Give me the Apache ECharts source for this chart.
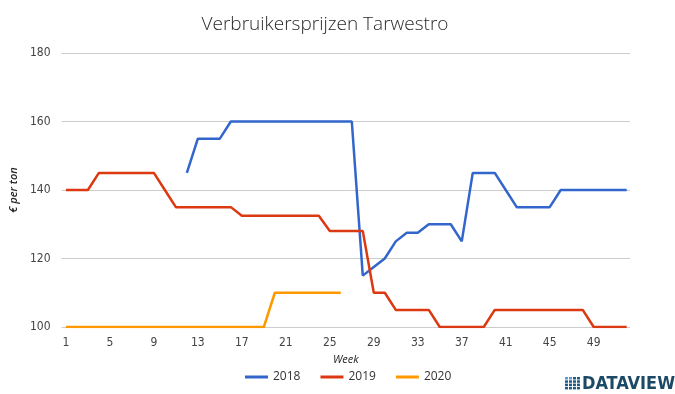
<!DOCTYPE html>
<html>
<head>
<meta charset="utf-8">
<script src="https://cdn.jsdelivr.net/npm/echarts@6/dist/echarts.min.js"></script>
<style>
  html, body { margin: 0; padding: 0; background: #fff; }
  #chart { width: 675px; height: 394px; }
</style>
</head>
<body>
<div id="chart"></div>
<script>
// Weekly consumer prices of wheat straw (€ per ton)
const weeks = [1,2,3,4,5,6,7,8,9,10,11,12,13,14,15,16,17,18,19,20,21,22,23,24,25,26,
               27,28,29,30,31,32,33,34,35,36,37,38,39,40,41,42,43,44,45,46,47,48,49,50,51,52];
const weekTicks = [1,5,9,13,17,21,25,29,33,37,41,45,49];
const priceTicks = [100,120,140,160,180];
const seriesNames = ['2018','2019','2020'];

const prices2018 = [null,null,null,null,null,null,null,null,null,null,null,145,155,155,155,160,
                    160,160,160,160,160,160,160,160,160,160,160,115,117.5,120,125,127.5,127.5,130,130,130,
                    125,145,145,145,140,135,135,135,135,140,140,140,140,140,140,140];
const prices2019 = [140,140,140,145,145,145,145,145,145,140,135,135,135,135,135,135,
                    132.5,132.5,132.5,132.5,132.5,132.5,132.5,132.5,128,128,128,128,110,110,105,105,105,105,
                    100,100,100,100,100,105,105,105,105,105,105,105,105,105,100,100,100,100];
const prices2020 = [100,100,100,100,100,100,100,100,100,100,100,100,100,100,100,100,100,100,100,
                    110,110,110,110,110,110,110];

const colors = ['#3366cc', '#dc3912', '#ff9900'];
const labelFont = "'Liberation Sans Narrow', 'DejaVu Sans Condensed', sans-serif";

function pairs(values) {
  const out = [];
  values.forEach((v, i) => { if (v !== null && v !== undefined) out.push([weeks[i], v]); });
  return out;
}

// Logo mark: small grid of squares followed by the wordmark
const logoCells = [];
for (let r = 0; r < 4; r++) {
  for (let c = 0; c < 4; c++) {
    logoCells.push({
      type: 'rect',
      shape: { x: c * 4, y: r * 3.3, width: 3, height: 2.5 },
      style: { fill: (r === 0 && c < 2) ? '#5b9bd5' : '#1f5a85' }
    });
  }
}

const chart = echarts.init(document.getElementById('chart'), null, { renderer: 'canvas' });
chart.setOption({
  animation: false,
  color: colors,
  title: {
    text: 'Verbruikersprijzen Tarwestro',
    left: 320,
    textAlign: 'center',
    top: 10,
    textStyle: { fontFamily: "'Open Sans', sans-serif", fontWeight: 300, fontSize: 19, color: '#2a2a2a' }
  },
  grid: { left: 61, right: 45, top: 53, bottom: 67, containLabel: false },
  xAxis: {
    type: 'value',
    min: 0.6,
    max: 52.3,
    name: 'Week',
    nameLocation: 'middle',
    nameGap: 24,
    nameTextStyle: { fontFamily: "'Open Sans', sans-serif", fontStyle: 'italic', fontSize: 11, color: '#222' },
    axisLine: { show: false },
    axisTick: { show: false },
    splitLine: { show: false },
    axisLabel: {
      customValues: weekTicks,
      margin: 10,
      fontFamily: labelFont,
      fontSize: 12,
      color: '#444'
    }
  },
  yAxis: {
    type: 'value',
    min: 100,
    max: 180,
    interval: 20,
    name: '€ per ton',
    nameLocation: 'middle',
    nameGap: 34,
    nameTextStyle: { fontFamily: "'Open Sans', sans-serif", fontStyle: 'italic', fontWeight: 600, fontSize: 11, color: '#222' },
    axisLine: { show: false },
    axisTick: { show: false },
    splitLine: { lineStyle: { color: '#cccccc', width: 1 } },
    axisLabel: {
      customValues: priceTicks,
      margin: 11,
      fontFamily: labelFont,
      fontSize: 12,
      color: '#444'
    }
  },
  legend: {
    bottom: 6,
    left: 240,
    icon: 'rect',
    itemWidth: 23,
    itemHeight: 3,
    itemGap: 20,
    textStyle: { fontFamily: "'Open Sans', sans-serif", fontSize: 12, color: '#333' },
    data: seriesNames
  },
  series: [prices2018, prices2019, prices2020].map((vals, i) => ({
    name: seriesNames[i],
    type: 'line',
    data: pairs(vals),
    showSymbol: false,
    symbol: 'none',
    lineStyle: { width: 2.5, color: colors[i] },
    itemStyle: { color: colors[i] }
  })),
  graphic: [{
    type: 'group',
    right: 0,
    bottom: 1,
    children: [
      { type: 'group', x: 0, y: 2, children: logoCells },
      {
        type: 'text',
        x: 17,
        y: 0,
        style: {
          text: 'DATAVIEW',
          font: "bold 18px 'Liberation Sans Narrow', 'DejaVu Sans Condensed', sans-serif",
          fill: '#1c4966'
        }
      }
    ]
  }]
});
</script>
</body>
</html>
